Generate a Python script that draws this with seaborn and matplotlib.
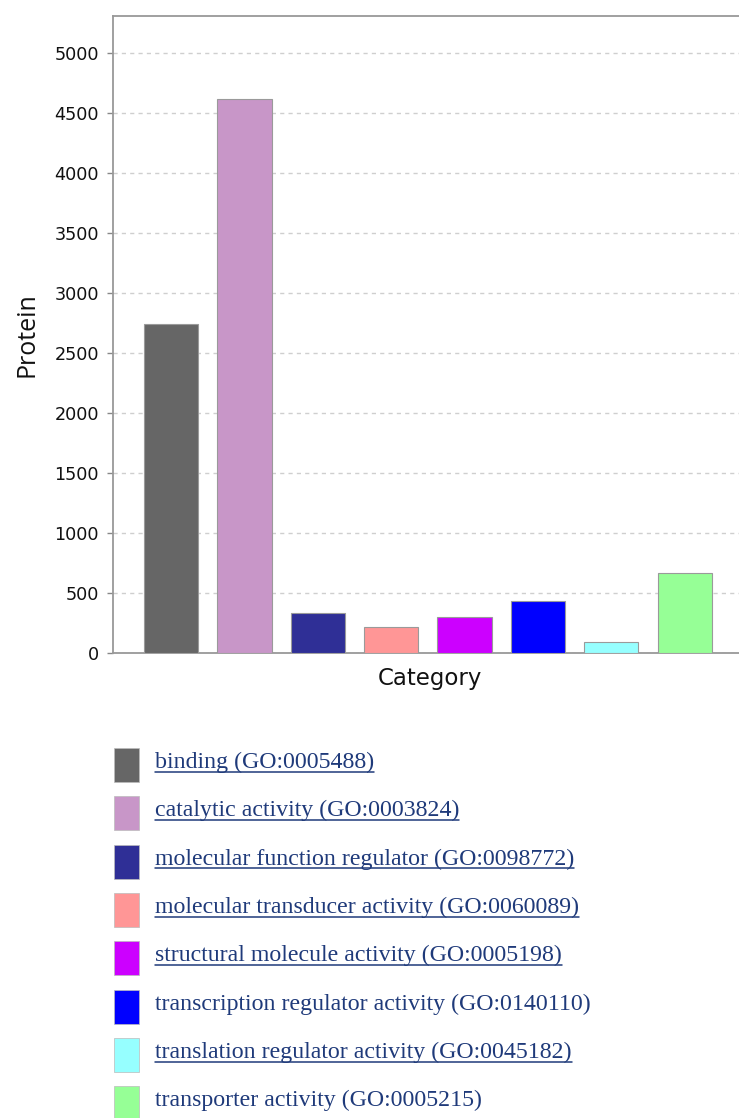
import matplotlib
matplotlib.use("Agg")
import matplotlib.pyplot as plt
from matplotlib.patches import Rectangle
from matplotlib.lines import Line2D
import seaborn as sns
import pandas as pd

# GO molecular function categories and protein counts
categories = [
    "binding (GO:0005488)",
    "catalytic activity (GO:0003824)",
    "molecular function regulator (GO:0098772)",
    "molecular transducer activity (GO:0060089)",
    "structural molecule activity (GO:0005198)",
    "transcription regulator activity (GO:0140110)",
    "translation regulator activity (GO:0045182)",
    "transporter activity (GO:0005215)",
]
proteins = [2742, 4617, 330, 218, 296, 437, 95, 669]
colors = ["#666666", "#c896c8", "#2f2f96", "#ff9696",
          "#cc00ff", "#0000ff", "#96ffff", "#96ff96"]
underlined = [True, True, True, True, True, False, True, False]
yticks = [0, 500, 1000, 1500, 2000, 2500, 3000, 3500, 4000, 4500, 5000]

df = pd.DataFrame({"Category": categories, "Protein": proteins})

sns.set_style("white")
plt.rcParams["font.family"] = ["DejaVu Sans"]

W, H = 739, 1118
fig = plt.figure(figsize=(W / 100, H / 100), dpi=100)
ax = fig.add_axes([113 / W, 1 - 653 / H, (739 - 113) / W + 0.01, (653 - 16) / H])

sns.barplot(data=df, x="Category", y="Protein", hue="Category",
            palette=colors, saturation=1, legend=False, width=0.74,
            edgecolor="#9a9a9a", linewidth=0.8, ax=ax, zorder=3)

ax.set_xlim(-0.79, 7.74 + 0.01 * W / 73.4)
ax.set_ylim(0, 5308)
ax.set_yticks(yticks)
ax.set_yticklabels([str(v) for v in yticks], fontsize=12.7, color="#111111")
ax.set_xticks([])
ax.yaxis.grid(True, color="#cfcfcf", linestyle=(0, (3, 3)), linewidth=1, zorder=0)
ax.tick_params(axis="y", direction="out", length=4, width=1, color="#888888", pad=6, left=True)

for side in ["left", "top", "bottom"]:
    ax.spines[side].set_visible(True)
    ax.spines[side].set_color("#999999")
    ax.spines[side].set_linewidth(1.3)
ax.spines["right"].set_visible(False)

ax.set_xlabel("Category", fontsize=16.5, labelpad=10, color="#111111")
ax.set_ylabel("Protein", fontsize=18, labelpad=11, color="#111111",
              family="Open Sans")

# Legend drawn as colored swatches with linked-style labels below the chart
text_color = "#1f3a7a"
base0 = 768
step = 48.35
texts = []
for i, (lab, col) in enumerate(zip(categories, colors)):
    yb = base0 + i * step
    fig.patches.append(Rectangle((114 / W, 1 - (yb + 14) / H), 25 / W, 34 / H,
                                 transform=fig.transFigure, facecolor=col,
                                 edgecolor="#bbbbbb", linewidth=0.5))
    t = fig.text(155 / W, 1 - yb / H, lab, fontsize=17.2, color=text_color,
                 family="Liberation Serif", va="baseline", ha="left")
    texts.append((t, yb))

fig.canvas.draw()
renderer = fig.canvas.get_renderer()
for (t, yb), ul in zip(texts, underlined):
    if not ul:
        continue
    bb = t.get_window_extent(renderer)
    yl = 1 - (yb + 3.5) / H
    fig.lines.append(Line2D([bb.x0 / W, bb.x1 / W], [yl, yl],
                            transform=fig.transFigure, color=text_color,
                            linewidth=1.1))

fig.savefig("out.png", dpi=100)
